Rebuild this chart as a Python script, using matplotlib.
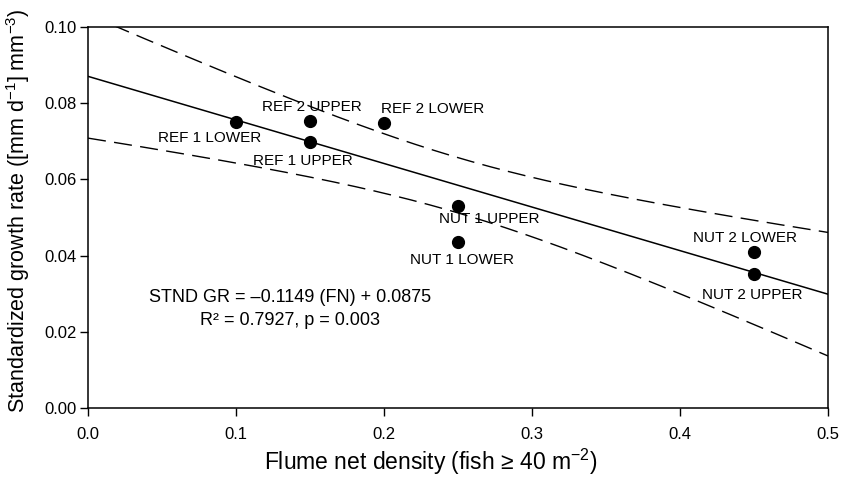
import numpy as np
import matplotlib
matplotlib.use("Agg")
import matplotlib.pyplot as plt

plt.rcParams['font.family'] = ['Liberation Sans', 'DejaVu Sans']
plt.rcParams['mathtext.default'] = 'regular'

# flume net density vs standardized growth rate
density = [0.10, 0.15, 0.15, 0.20, 0.25, 0.25, 0.45, 0.45]
growth = [0.0751, 0.0753, 0.0698, 0.0748, 0.0530, 0.0436, 0.0409, 0.0352]
names = ["REF 1 LOWER", "REF 2 UPPER", "REF 1 UPPER", "REF 2 LOWER",
         "NUT 1 UPPER", "NUT 1 LOWER", "NUT 2 LOWER", "NUT 2 UPPER"]
# label centres (data coords)
label_x = [0.082, 0.151, 0.145, 0.233, 0.271, 0.253, 0.444, 0.449]
label_y = [0.0709, 0.0790, 0.0648, 0.0785, 0.0496, 0.0388, 0.0446, 0.0297]

x = np.array(density)
y = np.array(growth)
n = len(x)
slope, icpt = np.polyfit(x, y, 1)
resid = y - (slope * x + icpt)
s = np.sqrt(np.sum(resid ** 2) / (n - 2))
sxx = np.sum((x - x.mean()) ** 2)
t95 = 2.447  # df = 6

xs = np.linspace(0, 0.5, 200)
fit = slope * xs + icpt
half = t95 * s * np.sqrt(1 / n + (xs - x.mean()) ** 2 / sxx)

fig = plt.figure(figsize=(8.43, 4.79), dpi=100)
ax = fig.add_axes([0.1044, 0.1482, 0.8778, 0.7954])

ax.plot(xs, fit, color='black', lw=1.1)
ax.plot(xs, fit + half, color='black', lw=1.0, dashes=(13, 6))
ax.plot(xs, fit - half, color='black', lw=1.0, dashes=(13, 6))
ax.plot(x, y, 'o', color='black', ms=8.5, zorder=5)

for nm, lx, ly in zip(names, label_x, label_y):
    ax.text(lx, ly, nm, ha='center', va='center', fontsize=11)

ax.text(0.1365, 0.0289, "STND GR = \u20130.1149 (FN) + 0.0875", ha='center', va='center', fontsize=13)
ax.text(0.1365, 0.0231, "R\u00b2 = 0.7927, p = 0.003", ha='center', va='center', fontsize=13)

ax.set_xlim(0, 0.5)
ax.set_ylim(0, 0.10)
ax.set_xticks(np.arange(0, 0.51, 0.1))
ax.set_yticks(np.arange(0, 0.101, 0.02))
ax.set_xticklabels(["0.0", "0.1", "0.2", "0.3", "0.4", "0.5"])
ax.set_yticklabels(["0.00", "0.02", "0.04", "0.06", "0.08", "0.10"])
ax.tick_params(direction='out', length=5.5, width=1, labelsize=12)
ax.tick_params(axis='y', pad=2.5)
ax.tick_params(axis='x', pad=8)
for sp in ax.spines.values():
    sp.set_linewidth(1.1)

ax.set_xlabel("Flume net density (fish \u2265 40 m$^{\u22122}$)", fontsize=16.5)
ax.set_ylabel("Standardized growth rate ([mm d$^{\u22121}$] mm$^{\u22123}$)", fontsize=15.5)
ax.xaxis.set_label_coords(0.4635, -0.103)
ax.yaxis.set_label_coords(-0.076, 0.517)

fig.savefig("out.png", dpi=100)
